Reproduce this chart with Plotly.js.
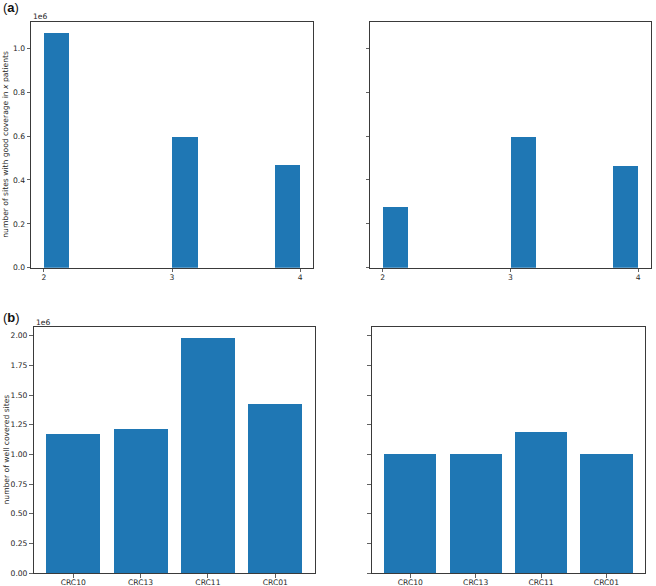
<!DOCTYPE html>
<html>
<head>
<meta charset="utf-8">
<script src="https://cdn.plot.ly/plotly-3.0.1.min.js"></script>
<style>html,body{margin:0;padding:0;background:#fff;}#chart{width:656px;height:586px;}</style>
</head>
<body>
<div id="chart"></div>
<script>
// Histogram bins (number of patients with good coverage)
const binEdges = [2.0, 2.2, 2.4, 2.6, 2.8, 3.0, 3.2, 3.4, 3.6, 3.8, 4.0];
const countsLeft  = [1068000, 0, 0, 0, 0, 598000, 0, 0, 0, 466000];
const countsRight = [279000, 0, 0, 0, 0, 598000, 0, 0, 0, 465000];
const histTicks = [2, 3, 4];

// Well covered sites per patient
const patients = ['CRC10', 'CRC13', 'CRC11', 'CRC01'];
const sitesLeft  = [1172000, 1211000, 1978000, 1427000];
const sitesRight = [1006000, 1006000, 1191000, 1006000];

const topTickVals = [0, 200000, 400000, 600000, 800000, 1000000];
const topTickText = ['0.0', '0.2', '0.4', '0.6', '0.8', '1.0'];
const botTickVals = [0, 250000, 500000, 750000, 1000000, 1250000, 1500000, 1750000, 2000000];
const botTickText = ['0.00', '0.25', '0.50', '0.75', '1.00', '1.25', '1.50', '1.75', '2.00'];

const W = 656, H = 586;
const px = v => v / W;
const py = v => 1 - v / H;
const barColor = '#1f77b4';

const binLeft = binEdges.slice(0, -1);
const binW = binEdges.slice(1).map((e, i) => e - binEdges[i]);

const traces = [
  {type: 'bar', x: binLeft, y: countsLeft, width: binW, offset: 0, marker: {color: barColor}, xaxis: 'x', yaxis: 'y'},
  {type: 'bar', x: binLeft, y: countsRight, width: binW, offset: 0, marker: {color: barColor}, xaxis: 'x2', yaxis: 'y2'},
  {type: 'bar', x: patients, y: sitesLeft, width: 0.8, marker: {color: barColor}, xaxis: 'x3', yaxis: 'y3'},
  {type: 'bar', x: patients, y: sitesRight, width: 0.8, marker: {color: barColor}, xaxis: 'x4', yaxis: 'y4'}
];

const tickFont = {family: 'DejaVu Sans', size: 7.6, color: '#262626'};
const axBase = {
  showline: true, mirror: true, linecolor: '#3a3a3a', linewidth: 1,
  ticks: 'outside', ticklen: 3.5, tickwidth: 0.8, tickcolor: '#3a3a3a',
  showgrid: false, zeroline: false, tickfont: tickFont, fixedrange: true
};

const topMax = Math.max(...countsLeft, ...countsRight) * 1.05;
const botMax = Math.max(...sitesLeft, ...sitesRight) * 1.05;

const layout = {
  width: W, height: H,
  margin: {l: 0, r: 0, t: 0, b: 0},
  paper_bgcolor: '#fff', plot_bgcolor: '#fff',
  showlegend: false,
  bargap: 0,
  xaxis:  Object.assign({}, axBase, {domain: [px(31), px(313)], range: [1.9, 4.1], tickvals: histTicks, ticktext: histTicks.map(String), anchor: 'y', ticklabelstandoff: -1}),
  yaxis:  Object.assign({}, axBase, {domain: [py(267.7), py(21.7)], range: [0, topMax], tickvals: topTickVals, ticktext: topTickText, anchor: 'x'}),
  xaxis2: Object.assign({}, axBase, {domain: [px(370), px(651)], range: [1.9, 4.1], tickvals: histTicks, ticktext: histTicks.map(String), anchor: 'y2', ticklabelstandoff: -1}),
  yaxis2: Object.assign({}, axBase, {domain: [py(267.7), py(21.7)], range: [0, topMax], tickvals: topTickVals, showticklabels: false, anchor: 'x2'}),
  xaxis3: Object.assign({}, axBase, {domain: [px(33.5), px(315)], type: 'category', range: [-0.59, 3.59], anchor: 'y3', ticklabelstandoff: -2}),
  yaxis3: Object.assign({}, axBase, {domain: [py(573), py(326.7)], range: [0, botMax], tickvals: botTickVals, ticktext: botTickText, anchor: 'x3'}),
  xaxis4: Object.assign({}, axBase, {domain: [px(371.7), px(645)], type: 'category', range: [-0.59, 3.59], anchor: 'y4', ticklabelstandoff: -2}),
  yaxis4: Object.assign({}, axBase, {domain: [py(573), py(326.7)], range: [0, botMax], tickvals: botTickVals, showticklabels: false, anchor: 'x4'}),
  annotations: [
    {xref: 'paper', yref: 'paper', x: px(1), y: py(8), xanchor: 'left', yanchor: 'middle', showarrow: false,
     text: '(<b>a</b>)', font: {family: 'Liberation Sans', size: 13, color: '#111'}},
    {xref: 'paper', yref: 'paper', x: px(1), y: py(317), xanchor: 'left', yanchor: 'middle', showarrow: false,
     text: '(<b>b</b>)', font: {family: 'Liberation Sans', size: 13, color: '#111'}},
    {xref: 'paper', yref: 'paper', x: px(31), y: py(17), xanchor: 'left', yanchor: 'middle', showarrow: false,
     text: '1e6', font: tickFont},
    {xref: 'paper', yref: 'paper', x: px(33.5), y: py(322), xanchor: 'left', yanchor: 'middle', showarrow: false,
     text: '1e6', font: tickFont},
    {xref: 'paper', yref: 'paper', x: px(6), y: py(144.7), xanchor: 'center', yanchor: 'middle', showarrow: false, textangle: -90,
     text: 'number of sites with good coverage in <i>x</i> patients', font: {family: 'DejaVu Sans', size: 7.6, color: '#262626'}},
    {xref: 'paper', yref: 'paper', x: px(5.5), y: py(450), xanchor: 'center', yanchor: 'middle', showarrow: false, textangle: -90,
     text: 'number of well covered sites', font: {family: 'DejaVu Sans', size: 7.6, color: '#262626'}}
  ]
};

Plotly.newPlot('chart', traces, layout, {displayModeBar: false, staticPlot: true});
</script>
</body>
</html>
